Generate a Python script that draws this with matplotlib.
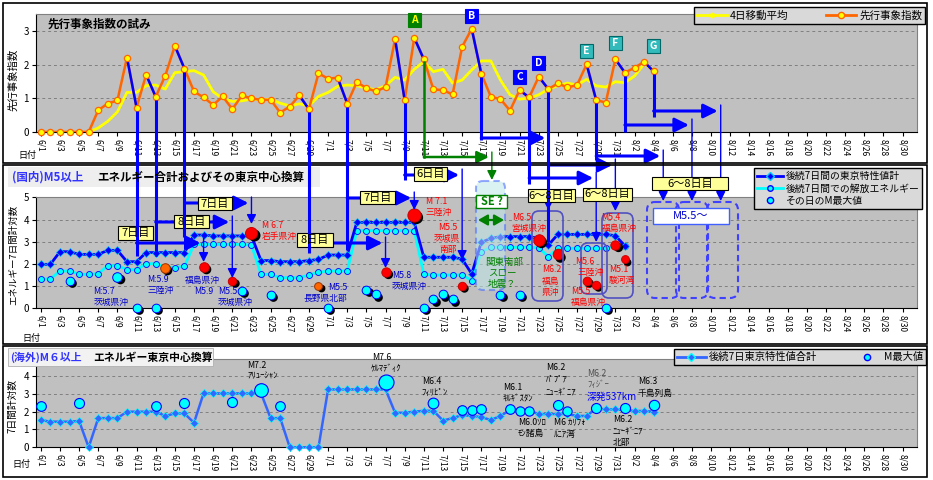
import matplotlib
matplotlib.use('Agg')
import matplotlib.pyplot as plt
from matplotlib.lines import Line2D
from matplotlib.patches import Rectangle, FancyBboxPatch, FancyArrowPatch
import matplotlib.transforms as mtransforms

plt.rcParams['font.family'] = ['Noto Sans CJK JP', 'DejaVu Sans']

W, H = 933, 480


def d(m, dd):
    return {6: -1, 7: 29, 8: 60}[m] + dd


# ---------------- data ----------------
tick_days = list(range(0, 91, 2))


def day_label(i):
    if i < 30:
        return f"6/{i + 1}"
    if i < 61:
        return f"7/{i - 29}"
    return f"8/{i - 60}"


tick_labels = [day_label(i) for i in tick_days]

# top panel: 先行事象指数 (6/1 .. 8/4)
lead_index = [0, 0, 0, 0, 0, 0,
              0.65, 0.85, 0.94, 2.22, 0.73, 1.71, 1.05, 1.68, 2.57, 1.89, 1.21, 1.03,
              0.81, 1.06, 0.68, 1.09, 1.00, 0.96, 0.96, 0.58, 0.76, 1.09, 0.68, 1.75,
              1.59, 1.62, 0.85, 1.49, 1.31, 1.21, 1.34, 2.77, 0.95, 2.81,
              2.17, 1.27, 1.25, 1.12, 2.54, 3.08, 1.74, 1.05, 0.98, 0.64,
              1.25, 1.03, 1.65, 1.28, 1.45, 1.33, 1.40, 2.02, 0.95, 0.88, 2.17,
              1.77, 1.92, 2.09, 1.81]
# 4日移動平均 (6/6 .. 8/4)
ma4_start = d(6, 6)
ma4 = [0.0, 0.12, 0.32, 0.60, 1.18, 1.18, 1.38, 1.40, 1.28, 1.77, 1.80, 1.83, 1.70, 1.20,
       1.00, 0.91, 0.93, 0.98, 0.96, 0.98, 0.86, 0.78, 0.84, 0.78, 1.06,
       1.18, 1.36, 1.40, 1.38, 1.31, 1.26, 1.38, 1.63, 1.55, 1.87, 2.10, 1.80, 1.87, 1.46,
       1.55, 1.85, 2.12, 2.12, 1.55, 1.11, 0.98, 1.01, 1.11, 1.28, 1.38, 1.46, 1.40, 1.57,
       1.38, 1.34, 1.50,
       1.47, 1.67, 2.03, 1.85]
# falling segments highlighted in blue
blue_drops = [(d(6, 10), d(6, 11)), (d(6, 12), d(6, 13)), (d(6, 15), d(6, 16)),
              (d(6, 28), d(6, 29)), (d(7, 2), d(7, 3)), (d(7, 8), d(7, 9)),
              (d(7, 10), d(7, 11)), (d(7, 16), d(7, 17)), (d(7, 21), d(7, 22)),
              (d(7, 23), d(7, 24)), (d(7, 28), d(7, 29)), (d(7, 31), d(8, 1)),
              (d(8, 3), d(8, 4))]
marker_letters = ['A', 'B', 'C', 'D', 'E', 'F', 'G']
marker_letter_days = [d(7, 10), d(7, 16), d(7, 21), d(7, 23), d(7, 28), d(7, 31), d(8, 4)]

# middle panel (6/1 .. 8/1)
tokyo7 = [1.98, 1.98, 2.55, 2.55, 2.43, 2.43, 2.43, 2.61, 2.61, 2.10,
          2.10, 2.51, 2.51, 2.51, 2.51, 2.51, 3.30, 3.30, 3.26, 3.26,
          3.26, 3.26, 3.26, 2.15, 2.15, 2.10, 2.10, 2.10, 2.15, 2.20,
          2.40, 2.40, 2.40, 3.87, 3.87, 3.87, 3.87, 3.87, 3.87, 3.87,
          2.30, 2.30, 2.30, 2.30, 2.22, 1.55, 2.97, 3.15, 3.23, 3.23,
          3.23, 3.23, 3.15, 2.85, 3.33, 3.33, 3.33, 3.33, 3.33, 3.33, 3.27,
          2.82]
energy7 = [1.32, 1.32, 1.68, 1.68, 1.53, 1.53, 1.56, 1.92, 1.92, 1.74,
           1.74, 2.01, 2.01, 1.86, 1.83, 1.89, 2.88, 2.88, 2.88, 2.88,
           2.88, 2.88, 2.85, 1.53, 1.53, 1.38, 1.38, 1.38, 1.50, 1.62,
           1.68, 1.68, 1.68, 3.50, 3.50, 3.50, 3.50, 3.50, 3.50, 3.50,
           1.53, 1.50, 1.50, 1.50, 1.50, 1.25, 2.55, 2.75, 2.75, 2.75,
           2.75, 2.75, 2.72, 2.33, 2.70, 2.70, 2.70, 2.70, 2.70, 2.70, 2.85,
           2.80]
dom_days = [d(6, 4), d(6, 9), d(6, 11), d(6, 13), d(6, 14), d(6, 18), d(6, 21), d(6, 22),
            d(6, 23), d(6, 25), d(6, 30), d(7, 1), d(7, 5), d(7, 6), d(7, 7), d(7, 10),
            d(7, 11), d(7, 12), d(7, 13), d(7, 14), d(7, 15), d(7, 19), d(7, 21), d(7, 23),
            d(7, 25), d(7, 28), d(7, 29), d(7, 30), d(7, 31), d(8, 1)]
dom_vals = [1.25, 1.43, 0.03, 0.03, 1.83, 1.85, 1.25, 0.80, 3.38, 0.60, 1.02, 0.02, 0.83,
            0.63, 1.65, 4.20, 0.02, 0.40, 0.63, 0.40, 1.02, 0.60, 0.60, 3.08, 2.43, 1.25,
            1.05, 0.02, 2.85, 2.20]
dom_mag = [5.6, 5.9, 5.6, 5.6, 5.9, 5.9, 5.5, 5.6, 6.7, 5.6, 5.3, 5.6, 5.6, 5.6, 5.8, 7.1,
           5.6, 5.6, 5.6, 5.6, 5.5, 5.6, 5.6, 6.5, 6.2, 5.6, 5.5, 5.6, 5.8, 5.3]
dom_hit = [d(6, 18), d(6, 21), d(6, 23), d(7, 7), d(7, 10), d(7, 15), d(7, 23), d(7, 25),
           d(7, 28), d(7, 29), d(7, 31), d(8, 1)]
dom_near = [d(6, 14), d(6, 30)]

# bottom panel (6/1 .. 8/4)
abroad7 = [1.53, 1.44, 1.44, 1.44, 1.48, 0.0, 1.64, 1.64, 1.64, 2.00,
           2.00, 2.00, 2.00, 1.76, 1.90, 1.90, 1.38, 3.03, 3.03, 3.03,
           3.03, 3.03, 3.03, 3.03, 1.64, 1.64, 0.0, 0.0, 0.0, 0.0,
           3.25, 3.25, 3.25, 3.25, 3.25, 3.25, 3.25, 1.94, 1.94, 2.00,
           2.05, 2.05, 1.50, 1.64, 1.81, 1.76, 1.70, 1.53, 1.76, 2.09,
           2.09, 2.05, 1.87, 1.87, 1.87, 1.87, 1.76, 1.76, 2.19, 2.13, 2.13,
           2.09, 2.04, 2.04, 2.00]
ab_days = [d(6, 1), d(6, 5), d(6, 13), d(6, 16), d(6, 21), d(6, 24), d(6, 26), d(7, 7),
           d(7, 12), d(7, 15), d(7, 16), d(7, 17), d(7, 20), d(7, 21), d(7, 22), d(7, 25),
           d(7, 26), d(7, 29), d(8, 1), d(8, 4)]
ab_vals = [2.34, 2.47, 2.34, 2.47, 2.52, 3.21, 2.34, 3.64, 2.47, 2.09, 2.09, 2.15, 2.15,
           2.05, 2.05, 2.37, 2.05, 2.22, 2.22, 2.37]
ab_mag = [6.1, 6.2, 6.1, 6.2, 6.2, 7.2, 6.1, 7.6, 6.4, 6.1, 6.1, 6.1, 6.1, 6.0, 6.0, 6.2,
          6.0, 6.2, 6.2, 6.3]

# prediction chains: (start day, target day)
chains = [(d(6, 11), d(6, 18)), (d(6, 13), d(6, 21)), (d(6, 16), d(6, 23)),
          (d(6, 29), d(7, 7)), (d(7, 3), d(7, 10)), (d(7, 9), d(7, 15)),
          (d(7, 17), d(7, 24)), (d(7, 22), d(7, 29)), (d(7, 24), d(7, 31)),
          (d(7, 29), d(8, 5)), (d(8, 1), d(8, 8)), (d(8, 4), d(8, 11))]
green_chain = (d(7, 11), d(7, 18))

# ---------------- figure ----------------
fig = plt.figure(figsize=(W / 100, H / 100), dpi=100, facecolor='white')

GRAY = '#C0C0C0'
XL, XR = 36, 917


def make_ax(top, bottom, ymax, yticks):
    ax = fig.add_axes([XL / W, 1 - bottom / H, (XR - XL) / W, (bottom - top) / H])
    ax.set_facecolor(GRAY)
    ax.set_xlim(-0.5, 91.5)
    ax.set_ylim(0, ymax)
    ax.set_yticks(yticks)
    ax.set_yticklabels([str(v) for v in yticks], fontsize=7)
    ax.set_xticks(tick_days)
    ax.set_xticklabels(tick_labels, rotation=-90, fontsize=6, va='top', ha='center')
    ax.tick_params(axis='both', length=3, width=0.8, pad=2, colors='black')
    ax.yaxis.grid(True, linestyle=(0, (3, 3)), color='#808080', lw=0.7)
    ax.set_axisbelow(True)
    for s in ['top', 'right']:
        ax.spines[s].set_color('#808080')
    for s in ['left', 'bottom']:
        ax.spines[s].set_color('black')
    return ax


ax1 = make_ax(14, 132, 3.52, [0, 1, 2, 3])
ax2 = make_ax(197.3, 308.3, 5, [0, 1, 2, 3, 4, 5])
ax3 = make_ax(359, 447.3, 4.96, [0, 1, 2, 3, 4])

# ---- top panel
ma_days = list(range(ma4_start, ma4_start + len(ma4)))
lead_days = list(range(len(lead_index)))
ax1.plot(ma_days, ma4, color='#FFFF00', lw=2, zorder=3)
ax1.plot(lead_days, lead_index, color='#FF6600', lw=1.8, zorder=3.5)
for a, b in blue_drops:
    ax1.plot([a, b], [lead_index[a], lead_index[b]], color='#0000FF', lw=1.8, zorder=4)
ax1.plot(lead_days, lead_index, ls='none', marker='o', ms=4.5, mfc='#FFFF00',
         mec='#FF6600', mew=0.9, zorder=5, clip_on=False)

# ---- middle panel
m_days = list(range(len(tokyo7)))
ax2.plot(m_days, energy7, color='#00FFFF', lw=2, marker='o', ms=4.3, mfc='#00FFFF',
         mec='#0000FF', mew=0.6, zorder=3)
ax2.plot(m_days, tokyo7, color='#0000FF', lw=2, marker='D', ms=3.6, mfc='#0000FF',
         mec='#00CCFF', mew=0.5, zorder=3.2)
shadow = ax2.transData + mtransforms.ScaledTranslation(0.022, -0.022, fig.dpi_scale_trans)
for day, v, m in zip(dom_days, dom_vals, dom_mag):
    diam = 9 + (m - 5.7) * 3.0
    s = (diam * 0.72) ** 2
    if day in dom_hit:
        fc, ec = '#FF0000', '#CC0000'
    elif day in dom_near:
        fc, ec = '#FF6600', '#993300'
    else:
        fc, ec = '#00FFFF', '#0000FF'
    ax2.scatter([day], [v], s=s, c='black', transform=shadow, zorder=4, clip_on=False,
                linewidths=0)
    ax2.scatter([day], [v], s=s, c=fc, edgecolors=ec, linewidths=0.7, zorder=5,
                clip_on=False)

# ---- bottom panel
b_days = list(range(len(abroad7)))
ax3.plot(b_days, abroad7, color='#3366FF', lw=1.8, marker='D', ms=3.6, mfc='#3366FF',
         mec='#00FFFF', mew=0.5, zorder=3, clip_on=False)
for day, v, m in zip(ab_days, ab_vals, ab_mag):
    diam = 10 + (m - 6.2) * 3.6
    ax3.scatter([day], [v], s=(diam * 0.72) ** 2, c='#00FFFF', edgecolors='#0000FF',
                linewidths=0.8, zorder=5, clip_on=False)

# ---------------- overlay (annotations) ----------------
ov = fig.add_axes([0, 0, 1, 1], zorder=20)
ov.set_xlim(0, W)
ov.set_ylim(H, 0)
ov.axis('off')
ov.patch.set_alpha(0)


def xa(ax, day):
    return ax.transData.transform((day, 0))[0]


def ya(ax, val):
    return H - ax.transData.transform((0, val))[1]


def T(x, y, s, **kw):
    kw.setdefault('va', 'center')
    kw.setdefault('ha', 'left')
    kw.setdefault('fontsize', 6.5)
    ov.text(x, y, s, **kw)


def arrow(p0, p1, color='#0000FF', lw=2.2, ms=12, hl=0.6, hw=0.3, style='-|>'):
    ov.add_patch(FancyArrowPatch(p0, p1, arrowstyle=f'{style},head_length={hl},head_width={hw}',
                                 mutation_scale=ms, color=color, lw=lw, shrinkA=0, shrinkB=0))


BLUE = '#0000FF'
# layout of each chain: (thick vertical end, horizontal y, thin arrow end)
chain_geom = [(256, 243, 262), (256, 222, 278), (237, 203, 224), (253, 243, 268),
              (250, 198, 210), (180, 175, 260), (140, 138, 210), (184, 178, 242),
              (242, 165, 211), (160, 156, 201), (132, 125, 201), (117, 111, 201)]
for (s, t), (yend, yh, tend) in zip(chains, chain_geom):
    x0 = xa(ax1, s)
    y0 = ya(ax1, lead_index[s]) + 3
    x1 = xa(ax1, t)
    ov.plot([x0, x0], [y0, yend], color=BLUE, lw=2.2, solid_capstyle='butt')
    arrow((x0, yh), (x1 - 3, yh), lw=2.2, ms=12, hl=0.7, hw=0.35)
    arrow((x1, yh - 6), (x1, tend), lw=1.0, ms=8, hl=0.7, hw=0.35)

# green chain
GREEN = '#008000'
gs, gt = green_chain
gx0, gx1 = xa(ax1, gs), xa(ax1, gt) + 1
ov.plot([gx0, gx0], [ya(ax1, lead_index[gs]) + 3, 157], color=GREEN, lw=1.8)
arrow((gx0, 157), (gx1 - 3, 157), color=GREEN, lw=1.8, ms=10, hl=0.7, hw=0.35)
arrow((gx1, 152), (gx1, 180), color=GREEN, lw=1.0, ms=8, hl=0.7, hw=0.35)

# SE region
ov.add_patch(FancyBboxPatch((476, 181), 29, 109, boxstyle='round,pad=0,rounding_size=7',
                            fc='#BFE8E8', ec='#4466FF', lw=1.5, ls=(0, (3, 2)), alpha=0.55))
ov.add_patch(Rectangle((476, 195), 31, 13, fc='white', ec=GREEN, lw=1))
T(491.5, 201.5, 'SE ?', ha='center', color=GREEN, fontsize=8, fontweight='bold')
arrow((478, 220), (504, 220), color=GREEN, lw=1.6, ms=8, hl=0.7, hw=0.4, style='<|-|>')

# rounded rects around hits
for (x0, y0, x1, y1) in [(532, 211, 563, 301), (581, 243, 607, 294), (602, 213, 633, 298)]:
    ov.add_patch(FancyBboxPatch((x0, y0), x1 - x0, y1 - y0,
                                boxstyle='round,pad=0,rounding_size=7',
                                fc='none', ec='#5050C0', lw=1.2))
for (x0, x1) in [(647, 679), (676, 708), (707, 738)]:
    ov.add_patch(FancyBboxPatch((x0, 202), x1 - x0, 96, boxstyle='round,pad=0,rounding_size=8',
                                fc='none', ec='#4040FF', lw=1.5, ls=(0, (3, 2))))
ov.add_patch(Rectangle((653, 208), 76, 16, fc='white', ec='#4060FF', lw=1))
T(691, 216, 'M5.5～', ha='center', color='#0000CC', fontsize=8)

# yellow day boxes
for txt, x0, y0, x1, y1 in [('7日目', 118, 226, 153, 240), ('8日目', 174, 215, 209, 228),
                            ('7日目', 198, 197, 232, 210), ('8日目', 297, 233, 333, 247),
                            ('7日目', 360, 191, 395, 204), ('6日目', 414, 167, 447, 181),
                            ('6～8日目', 528, 189, 575, 202), ('6～8日目', 583, 188, 632, 201),
                            ('6～8日目', 652, 177, 728, 190)]:
    ov.add_patch(Rectangle((x0, y0), x1 - x0, y1 - y0, fc='#FFFF99', ec='black', lw=0.8))
    T((x0 + x1) / 2, (y0 + y1) / 2, txt, ha='center', fontsize=8)

# letter boxes
letter_style = {'A': ('#008000', '#FFFF00'), 'B': ('#0000FF', 'white'),
                'C': ('#0000FF', 'white'), 'D': ('#0000FF', 'white'),
                'E': ('#33BBBB', 'white'), 'F': ('#33BBBB', 'white'),
                'G': ('#33BBBB', 'white')}
letter_y = [20, 16, 77, 62.5, 51, 43, 46]
for L, day, yy in zip(marker_letters, marker_letter_days, letter_y):
    fc, tc = letter_style[L]
    cx = xa(ax1, day)
    ov.add_patch(Rectangle((cx - 6.5, yy - 7), 13, 14, fc=fc,
                           ec='#006666' if fc == '#33BBBB' else fc, lw=0.8))
    T(cx, yy, L, ha='center', color=tc, fontsize=7.5, fontweight='bold')

# middle labels
R, B = '#FF0000', '#0000CC'
for x, y, s, c in [(93, 291, 'M:5.7', B), (94, 302, '茨城県沖', B),
                   (147, 279, 'M:5.9', B), (147, 290, '三陸沖', B),
                   (185, 280, '福島県沖', B), (194, 292, 'M5.9', B),
                   (218, 292, 'M5.5', B), (218, 302, '茨城県沖', B),
                   (262, 225, 'M 6.7', R), (262, 236, '岩手県沖', R),
                   (328, 287, 'M5.5', B), (303, 298, '長野県北部', B),
                   (392, 275, 'M5.8', B), (392, 286, '茨城県沖', B),
                   (426, 202, 'M 7.1', R), (425, 213, '三陸沖', R),
                   (438, 228, 'M5.5', R), (434, 238, '茨城県', R), (439, 249, '南部', R),
                   (512, 217, 'M6.5', R), (511, 228, '宮城県沖', R),
                   (542, 269, 'M6.2', R), (542, 281, '福島', R), (542, 292, '県沖', R),
                   (575, 262, 'M5.6', R), (577, 272, '三陸沖', R),
                   (571, 291, 'M5.5', R), (571, 302, '福島県沖', R),
                   (601, 217, 'M5.4', R), (602, 228, '福島県沖', R),
                   (609, 269, 'M5.1', R), (609, 280, '駿河湾', R),
                   (485, 262, '関東南部', GREEN), (488, 273, 'スロー', GREEN),
                   (488, 284, '地震？', GREEN)]:
    T(x, y, s, color=c, fontsize=6.8 if c == GREEN else 6.3)

# bottom labels
K = 'black'
for x, y, s, c in [(247, 365, 'M7.2', K), (247, 376, 'ｱﾘｭｰｼｬﾝ', K),
                   (372, 357, 'M7.6', K), (371, 369, 'ｹﾙﾏﾃﾞｨｸ', K),
                   (422, 381, 'M6.4', K), (421, 393, 'ﾌｨﾘﾋﾟﾝ', K),
                   (503, 387, 'M6.1', K), (503, 399, 'ｷﾙｷﾞｽﾀﾝ', K),
                   (518, 422, 'M6.0ｿﾛ', K), (518, 433, 'ﾓﾝ諸島', K),
                   (546, 367, 'M6.2', K), (546, 379, 'ﾊﾟﾌﾟｱ', K), (546, 392, 'ﾆｭｰｷﾞﾆｱ', K),
                   (554, 422, 'M6 ｶﾘﾌｫ', K), (554, 435, 'ﾙﾆｱ湾', K),
                   (587, 373, 'M6.2', '#505050'), (587, 385, 'ﾌｨｼﾞｰ', '#505050'),
                   (613, 419, 'M6.2', K), (613, 431, 'ﾆｭｰｷﾞﾆｱ', K), (613, 442, '北部', K),
                   (638, 381, 'M6.3', K), (638, 393, '千島列島', K)]:
    T(x, y, s, color=c, fontsize=6.3)
T(587, 397, '深発537km', color='#0000FF', fontsize=7)

# titles and labels
T(48, 24, '先行事象指数の試み', fontsize=8.3, fontweight='bold')
ov.add_patch(Rectangle((8, 167), 312, 20, fc='#EEEEEE', ec='none', zorder=0))
T(12, 177, '(国内)M5以上', color='#3333FF', fontsize=8.3, fontweight='bold')
T(97, 177, 'エネルギー合計およびその東京中心換算', fontsize=8.3, fontweight='bold')
ov.add_patch(Rectangle((8, 348), 205, 18, fc='#F2F2F2', ec='#B0B0B0', lw=0.6, zorder=0))
T(10, 357.5, '(海外)M６以上', color='#3333FF', fontsize=7.8, fontweight='bold')
T(93, 357.5, 'エネルギー東京中心換算', fontsize=7.8, fontweight='bold')

T(13, 80, '先行事象指数', rotation=90, ha='center', fontsize=7.5)
T(13.5, 255, 'エネルギー7日間計対数', rotation=90, ha='center', fontsize=6.8)
T(12.5, 406, '7日間計対数', rotation=90, ha='center', fontsize=7)
T(18, 155, '日付', fontsize=6.5)
T(22, 338, '日付', fontsize=6.5)
T(12, 464, '日付', fontsize=6.5)

# panel frames
for (y0, y1) in [(3, 163), (165, 344), (346, 477)]:
    ov.add_patch(Rectangle((3, y0), 924, y1 - y0, fc='none', ec='black', lw=1.2))

# ---------------- legends ----------------
leg_kw = dict(frameon=True, fancybox=False, edgecolor='black', facecolor='#D9D9D9',
              framealpha=1, handletextpad=0.3, borderpad=0.3, borderaxespad=0)
h_ma = Line2D([], [], color='#FFFF00', lw=2, marker='o', ms=3, mfc='#FFFF00', mec='#FFFF00')
h_ld = Line2D([], [], color='#FF6600', lw=2, marker='o', ms=4.5, mfc='#FFFF00', mec='#FF6600')
lg1 = fig.legend([h_ma, h_ld], ['4日移動平均', '先行事象指数'], loc='upper left',
                 bbox_to_anchor=(694 / W, 1 - 7 / H), ncol=2, handlelength=2.8,
                 columnspacing=3.6, fontsize=7.6, **leg_kw)
h_t = Line2D([], [], color='#0000FF', lw=2, marker='D', ms=3.6, mfc='#0000FF', mec='#00CCFF')
h_e = Line2D([], [], color='#00FFFF', lw=2, marker='o', ms=4, mfc='#00FFFF', mec='#0000FF')
h_m = Line2D([], [], ls='none', marker='o', ms=4.5, mfc='#00FFFF', mec='#0000FF')
lg2 = fig.legend([h_t, h_e, h_m], ['後続7日間の東京特性値計', '後続7日間での解放エネルギー',
                                   'その日のM最大値'], loc='upper left',
                 bbox_to_anchor=(754 / W, 1 - 168 / H), ncol=1, handlelength=2.6,
                 labelspacing=0.25, fontsize=7.1, **leg_kw)
h_a = Line2D([], [], color='#3366FF', lw=2, marker='D', ms=3.6, mfc='#3366FF', mec='#00FFFF')
h_am = Line2D([], [], ls='none', marker='o', ms=4.5, mfc='#00FFFF', mec='#0000FF')
lg3 = fig.legend([h_a, h_am], ['後続7日東京特性値合計', 'M最大値'], loc='upper left',
                 bbox_to_anchor=(674 / W, 1 - 349 / H), ncol=2, handlelength=2.8,
                 columnspacing=3.4, fontsize=7.4, **leg_kw)
for lg in (lg1, lg2, lg3):
    lg.set_zorder(30)
    lg.get_frame().set_linewidth(1)

fig.savefig('out.png', dpi=100, facecolor='white')
